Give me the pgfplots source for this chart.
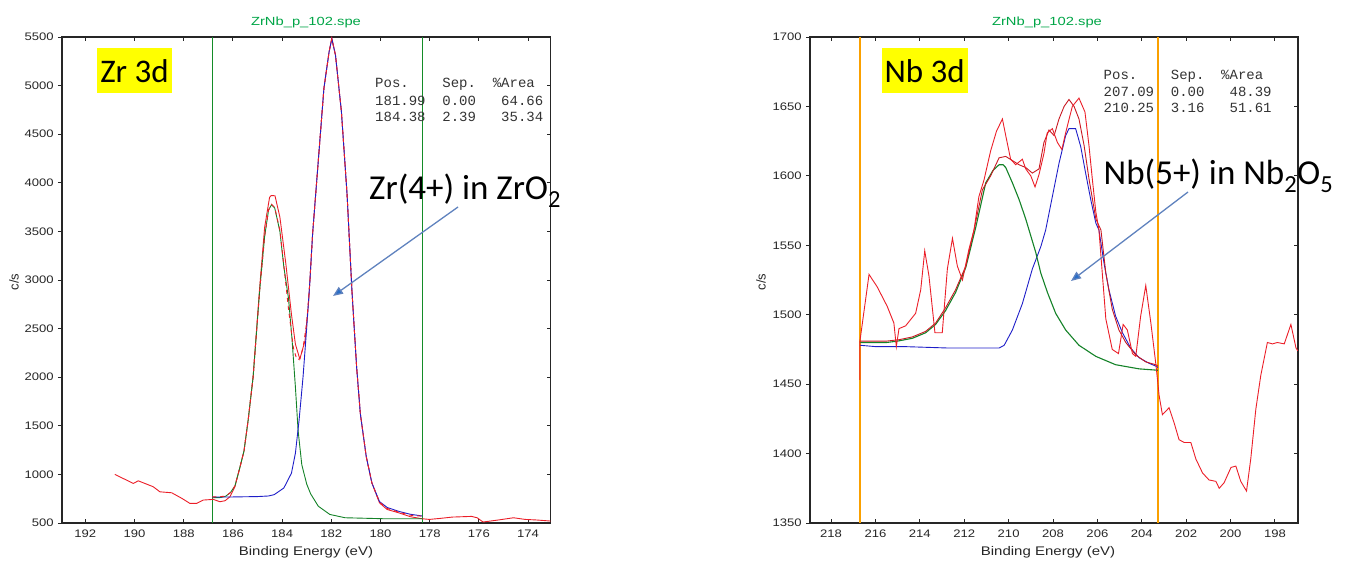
\documentclass[border=0pt]{standalone}
\usepackage{pgfplots}
\pgfplotsset{compat=1.18}
\usepackage{pgfplotstable}
\usepackage{fontspec}
\setmainfont{Liberation Sans}
\newfontfamily\calib{Carlito}
\newfontfamily\mono{Liberation Mono}
\usetikzlibrary{arrows.meta}

\definecolor{dred}{RGB}{235,30,40}
\definecolor{dblue}{RGB}{30,30,200}
\definecolor{dgreen}{RGB}{20,130,40}
\definecolor{vgreen}{RGB}{20,140,40}
\definecolor{amberline}{RGB}{250,160,0}
\definecolor{tgreen}{RGB}{0,165,70}
\definecolor{arrowblue}{RGB}{95,130,190}
\definecolor{headblue}{RGB}{40,110,200}
\definecolor{ylw}{RGB}{255,255,0}

% ---------- Zr 3d ----------
\pgfplotstableread{
E c
190.80 1000
190.05 907
189.85 934
189.51 900
189.24 873
188.97 821
188.49 811
188.08 754
187.75 702
187.47 702
187.21 736
186.80 743
186.53 719
186.32 729
186.12 770
185.92 873
185.71 1078
185.55 1240
185.38 1560
185.18 2000
184.91 2932
184.71 3544
184.51 3850
184.45 3868
184.29 3867
184.09 3646
183.85 3170
183.62 2646
183.46 2340
183.28 2187
183.07 2374
182.92 2782
182.76 3476
182.53 4224
182.30 4973
182.09 5347
181.98 5490
181.83 5313
181.59 4735
181.36 3884
181.16 2884
180.97 2102
180.82 1626
180.58 1184
180.35 912
180.04 707
179.73 639
179.26 605
178.79 565
178.32 544
178.01 537
177.55 548
177.08 561
176.30 568
176.07 554
175.83 510
175.21 531
174.59 554
174.12 537
173.65 531
173.08 520
}\zrdata

\pgfplotstableread{
E c
186.84 768
186.00 768
185.00 772
184.55 778
184.32 792
183.93 860
183.62 1013
183.46 1218
183.31 1558
183.15 2000
183.00 2510
182.87 2988
182.76 3476
182.53 4224
182.30 4973
182.09 5347
181.98 5480
181.83 5313
181.59 4735
181.36 3884
181.16 2884
180.97 2102
180.82 1626
180.58 1184
180.35 912
180.04 720
179.73 660
179.26 620
178.79 590
178.30 572
}\zrblue

\pgfplotstableread{
E c
186.84 760
186.50 762
186.30 775
186.11 810
185.92 880
185.71 1078
185.55 1240
185.38 1560
185.18 2000
184.91 2900
184.71 3450
184.55 3720
184.43 3775
184.30 3740
184.09 3500
183.93 3136
183.74 2810
183.60 2400
183.46 1900
183.35 1450
183.20 1100
183.00 900
182.84 800
182.53 673
182.06 588
181.44 554
179.88 544
178.30 544
}\zrgreen

\pgfplotstableread{
E c
186.84 768
186.30 775
186.11 812
185.92 880
185.71 1078
185.55 1240
185.38 1560
185.18 2000
184.91 2900
184.71 3450
184.55 3720
184.43 3778
184.30 3745
184.09 3510
183.93 3150
183.74 2700
183.54 2300
183.40 2180
183.28 2190
183.15 2300
183.00 2560
182.87 2988
182.76 3476
182.53 4224
182.30 4973
182.09 5347
181.98 5482
181.83 5313
181.59 4735
181.36 3884
181.16 2884
180.97 2102
180.82 1626
180.58 1184
180.35 912
180.04 715
179.73 650
179.26 612
178.79 580
178.30 570
}\zrenv

% ---------- Nb 3d ----------
\pgfplotstableread{
E c
216.70 1453
216.70 1481
216.29 1529
215.92 1520
215.47 1506
215.17 1494
215.06 1477
214.94 1490
214.64 1492
214.19 1501
213.96 1518
213.78 1546
213.59 1528
213.32 1487
212.99 1487
212.76 1533
212.53 1555
212.31 1535
212.08 1525
211.79 1547
211.56 1561
211.34 1585
211.11 1597
210.81 1618
210.55 1632
210.28 1641
210.13 1629
209.91 1612
209.68 1608
209.38 1612
209.23 1605
209.00 1600
208.81 1592
208.63 1601
208.41 1616
208.26 1631
208.03 1634
207.80 1624
207.60 1619
207.43 1631
207.13 1650
206.83 1656
206.56 1646
206.38 1622
206.23 1598
206.07 1574
205.93 1561
205.62 1497
205.33 1475
205.05 1472
204.84 1493
204.65 1489
204.42 1472
204.27 1470
204.05 1499
203.82 1521
203.59 1494
203.37 1465
203.29 1453
203.22 1442
203.07 1428
202.77 1433
202.54 1422
202.32 1410
202.09 1408
201.79 1408
201.56 1396
201.26 1386
200.97 1381
200.66 1380
200.51 1375
200.29 1379
199.98 1390
199.76 1391
199.54 1380
199.28 1373
199.09 1396
198.86 1432
198.64 1456
198.34 1480
198.11 1479
197.89 1480
197.58 1479
197.28 1493
197.05 1476
196.97 1474
}\nbraw

\pgfplotstableread{
E c
216.70 1481
216.00 1481
215.50 1481
214.94 1482
214.34 1484
213.74 1488
213.29 1494
212.84 1505
212.39 1518
211.93 1535
211.56 1561
211.18 1590
210.81 1600
210.43 1613
210.13 1614
209.83 1611
209.53 1608
209.23 1606
208.93 1602
208.63 1605
208.41 1624
208.18 1633
207.95 1629
207.73 1641
207.50 1650
207.28 1655
207.05 1650
206.83 1641
206.60 1622
206.38 1598
206.07 1569
205.84 1561
205.62 1530
205.33 1504
205.03 1489
204.72 1480
204.27 1471
203.82 1466
203.37 1464
203.27 1463
}\nbenv

\pgfplotstableread{
E c
216.70 1478
215.98 1477
214.64 1477
212.69 1476
210.43 1476
210.20 1478
209.83 1489
209.38 1508
208.93 1533
208.55 1549
208.33 1561
208.03 1585
207.73 1609
207.43 1629
207.28 1634
206.98 1634
206.75 1621
206.53 1602
206.30 1583
206.07 1566
205.93 1561
205.70 1537
205.48 1518
205.18 1499
204.87 1487
204.50 1476
204.12 1469
203.67 1465
203.37 1463
203.27 1462
}\nbblue

\pgfplotstableread{
E c
216.70 1480
216.00 1480
215.50 1480
215.00 1481
214.34 1483
213.74 1487
213.29 1493
212.84 1503
212.39 1516
211.93 1534
211.48 1563
211.03 1595
210.70 1604
210.43 1608
210.25 1608
210.13 1606
209.83 1595
209.53 1583
209.23 1569
209.08 1561
208.78 1545
208.55 1530
208.25 1516
207.88 1501
207.43 1489
206.83 1478
206.07 1470
205.18 1464
204.12 1461
203.27 1460
}\nbgreen

\pgfplotsset{
  xpsaxis/.style={
    scale only axis, anchor=south west, x dir=reverse,
    axis line style={line width=1.3pt, black!85},
    tick style={black!85, line width=0.9pt},
    major tick length=4pt,
    xtick pos=both, ytick pos=left,
    xtick align=inside, ytick align=outside,
    tick label style={font=\fontsize{10.9}{12}\selectfont, text=black!85, xscale=1.2},
    xticklabel style={yshift=-3pt},
    /pgf/number format/assume math mode=true,
    /pgf/number format/1000 sep={},
  },
  rticks/.style={
    scale only axis, anchor=south west, x dir=reverse,
    axis line style={draw=none},
    xtick=\empty, ytick pos=right, ytick align=inside, yticklabels={},
    tick style={black!85, line width=0.9pt},
    major tick length=4pt,
  }
}

\begin{document}
\begin{tikzpicture}
\useasboundingbox (0pt,0pt) rectangle (1352pt,563pt);

% ---------------- left axis ----------------
\begin{axis}[xpsaxis, at={(62pt,40pt)}, width=488.7pt, height=486pt,
  xmin=173.08, xmax=192.95, ymin=500, ymax=5500,
  xtick={174,176,...,192}, ytick={500,1000,...,5500}]
\addplot[draw=vgreen, line width=1pt] coordinates {(186.84,500) (186.84,5500)};
\addplot[draw=vgreen, line width=1pt] coordinates {(178.30,500) (178.30,5500)};
\addplot[draw=dred, line width=0.9pt] table {\zrdata};
\addplot[draw=dgreen, line width=0.9pt] table {\zrgreen};
\addplot[draw=dblue, line width=0.9pt] table {\zrblue};
\addplot[draw=dred, line width=0.9pt, dash pattern=on 4pt off 4pt] table {\zrenv};
\end{axis}
\begin{axis}[rticks, at={(62pt,40pt)}, width=488.7pt, height=486pt,
  xmin=173.08, xmax=192.95, ymin=500, ymax=5500, ytick={500,1000,...,5500}]
\end{axis}

% ---------------- right axis ----------------
\begin{axis}[xpsaxis, at={(810pt,40pt)}, width=488pt, height=486pt,
  xmin=196.96, xmax=218.95, ymin=1350, ymax=1700,
  xtick={198,200,...,218}, ytick={1350,1400,...,1700}]
\addplot[draw=amberline, line width=1.3pt] coordinates {(216.70,1350) (216.70,1700)};
\addplot[draw=amberline, line width=1.3pt] coordinates {(203.27,1350) (203.27,1700)};
\addplot[draw=dblue, line width=0.9pt] table {\nbblue};
\addplot[draw=dgreen, line width=1.1pt] table {\nbgreen};
\addplot[draw=dred!85!black, line width=0.9pt] table {\nbenv};
\addplot[draw=dred, line width=0.9pt] table {\nbraw};
\end{axis}
\begin{axis}[rticks, at={(810pt,40pt)}, width=488pt, height=486pt,
  xmin=196.96, xmax=218.95, ymin=1350, ymax=1700, ytick={1350,1400,...,1700}]
\end{axis}

% ---------------- titles and labels ----------------
\node[text=tgreen, font=\fontsize{11.8}{13}\selectfont, xscale=1.25] at (306pt,541pt) {ZrNb\_p\_102.spe};
\node[text=tgreen, font=\fontsize{11.8}{13}\selectfont, xscale=1.25] at (1047pt,541pt) {ZrNb\_p\_102.spe};
\node[font=\fontsize{12.5}{14}\selectfont, xscale=1.2, text=black!85] at (306pt,11pt) {Binding Energy (eV)};
\node[font=\fontsize{12.5}{14}\selectfont, xscale=1.2, text=black!85] at (1048pt,11pt) {Binding Energy (eV)};
\node[font=\fontsize{13}{15}\selectfont, rotate=90, text=black!85] at (14pt,281pt) {c/s};
\node[font=\fontsize{13}{15}\selectfont, rotate=90, text=black!85] at (761pt,281pt) {c/s};

% yellow labels
\fill[ylw] (97pt,470pt) rectangle (172pt,515pt);
\node[anchor=base, font=\calib\fontsize{33}{36}\selectfont, inner sep=0pt] at (134.5pt,480.3pt) {Zr 3d};
\fill[ylw] (881.5pt,470pt) rectangle (967.7pt,515pt);
\node[anchor=base, font=\calib\fontsize{33}{36}\selectfont, inner sep=0pt] at (924.6pt,480.3pt) {Nb 3d};

% peak tables
\begin{scope}[every node/.style={anchor=base west, inner sep=0pt, font=\mono\fontsize{14}{16}\selectfont, text=black!80}]
\node at (375pt,475pt) {Pos.};
\node at (442.2pt,475pt) {Sep.};
\node at (492.6pt,475pt) {\%Area};
\node at (375pt,457pt) {181.99};
\node at (442.2pt,457pt) {0.00};
\node at (501pt,457pt) {64.66};
\node at (375pt,441pt) {184.38};
\node at (442.2pt,441pt) {2.39};
\node at (501pt,441pt) {35.34};
\node at (1103.5pt,483pt) {Pos.};
\node at (1170.7pt,483pt) {Sep.};
\node at (1221pt,483pt) {\%Area};
\node at (1103.5pt,466pt) {207.09};
\node at (1170.7pt,466pt) {0.00};
\node at (1229.4pt,466pt) {48.39};
\node at (1103.5pt,450pt) {210.25};
\node at (1170.7pt,450pt) {3.16};
\node at (1229.4pt,450pt) {51.61};
\end{scope}

% annotations
\node[anchor=base west, inner sep=0pt, font=\calib\fontsize{35}{38}\selectfont] at (369pt,363pt) {Zr(4+) in ZrO\textsubscript{2}};
\draw[arrowblue, line width=1.3pt, -{Triangle[length=10pt,width=8pt,fill=headblue]}] (458pt,356pt) -- (333pt,267pt);
\node[anchor=base west, inner sep=0pt, font=\calib\fontsize{35}{38}\selectfont] at (1103.5pt,378pt) {Nb(5+) in Nb\textsubscript{2}O\textsubscript{5}};
\draw[arrowblue, line width=1.3pt, -{Triangle[length=10pt,width=8pt,fill=headblue]}] (1188pt,371pt) -- (1071pt,282pt);
\end{tikzpicture}
\end{document}
